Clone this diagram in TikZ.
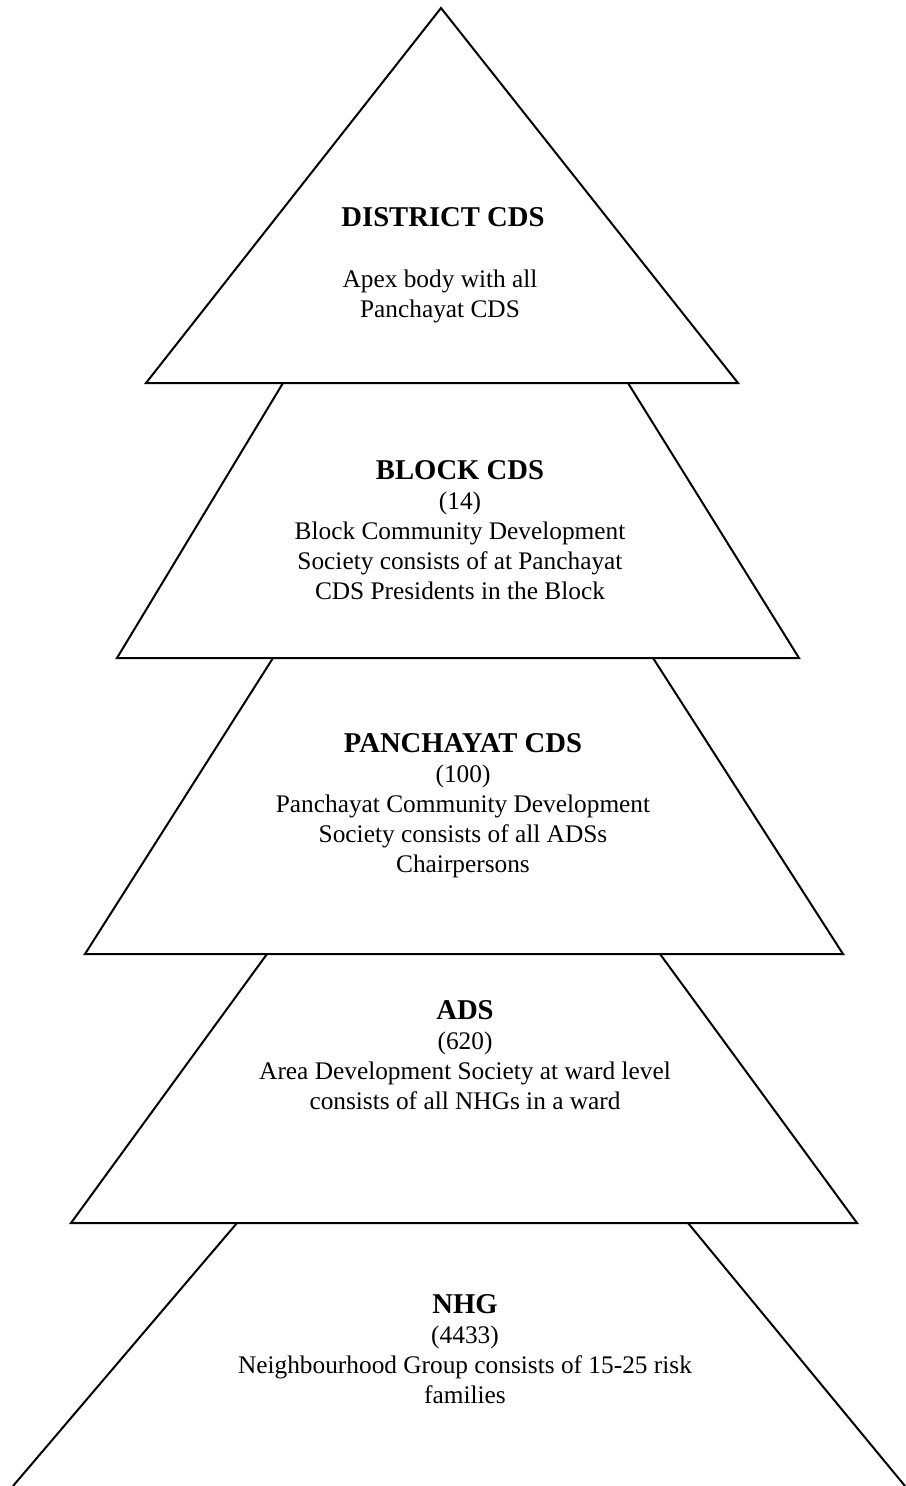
\documentclass[tikz,border=0pt]{standalone}
\usepackage{fontspec}
\setmainfont{Liberation Serif}
\usepackage{tikz}
\newcommand{\tiername}[1]{{\fontsize{21.5}{22.5}\selectfont\bfseries #1}}

\begin{document}
\begin{tikzpicture}[x=0.75pt,y=-0.75pt,
  tier/.style={draw=black,line width=1.5pt,line join=miter},
  body/.style={font=\fontsize{19}{22.5}\selectfont,align=center,inner sep=0pt},
]
\useasboundingbox (0,0) rectangle (906,1486);
% the tiers, top to bottom
\draw[tier] (441,8) -- (738,383) -- (146,383) -- cycle;
\draw[tier] (283,383) -- (117,658) -- (799,658) -- (628,383);
\draw[tier] (273,658) -- (85,954) -- (843,954) -- (653,658);
\draw[tier] (267,954) -- (71,1223) -- (857,1223) -- (660,954);
\draw[tier] (237,1223) -- (13,1486);
\draw[tier] (688,1223) -- (905,1486);

% what each tier holds
\node[body] (district) at (443,217) {\tiername{DISTRICT CDS}};
\node[body] (districtnote) at (440,296) {Apex body with all\\ Panchayat CDS};
\node[body] (block) at (460,530) {\tiername{BLOCK CDS}\\ (14)\\
  Block Community Development\\ Society consists of at Panchayat\\
  CDS Presidents in the Block};
\node[body] (panchayat) at (463,806) {\tiername{PANCHAYAT CDS}\\ (100)\\
  Panchayat Community Development\\ Society consists of all ADSs\\
  Chairpersons};
\node[body] (ads) at (465,1055) {\tiername{ADS}\\ (620)\\
  Area Development Society at ward level\\ consists of all NHGs in a ward};
\node[body] (nhg) at (465,1349) {\tiername{NHG}\\ (4433)\\
  Neighbourhood Group consists of 15-25 risk\\ families};
\end{tikzpicture}
\end{document}
